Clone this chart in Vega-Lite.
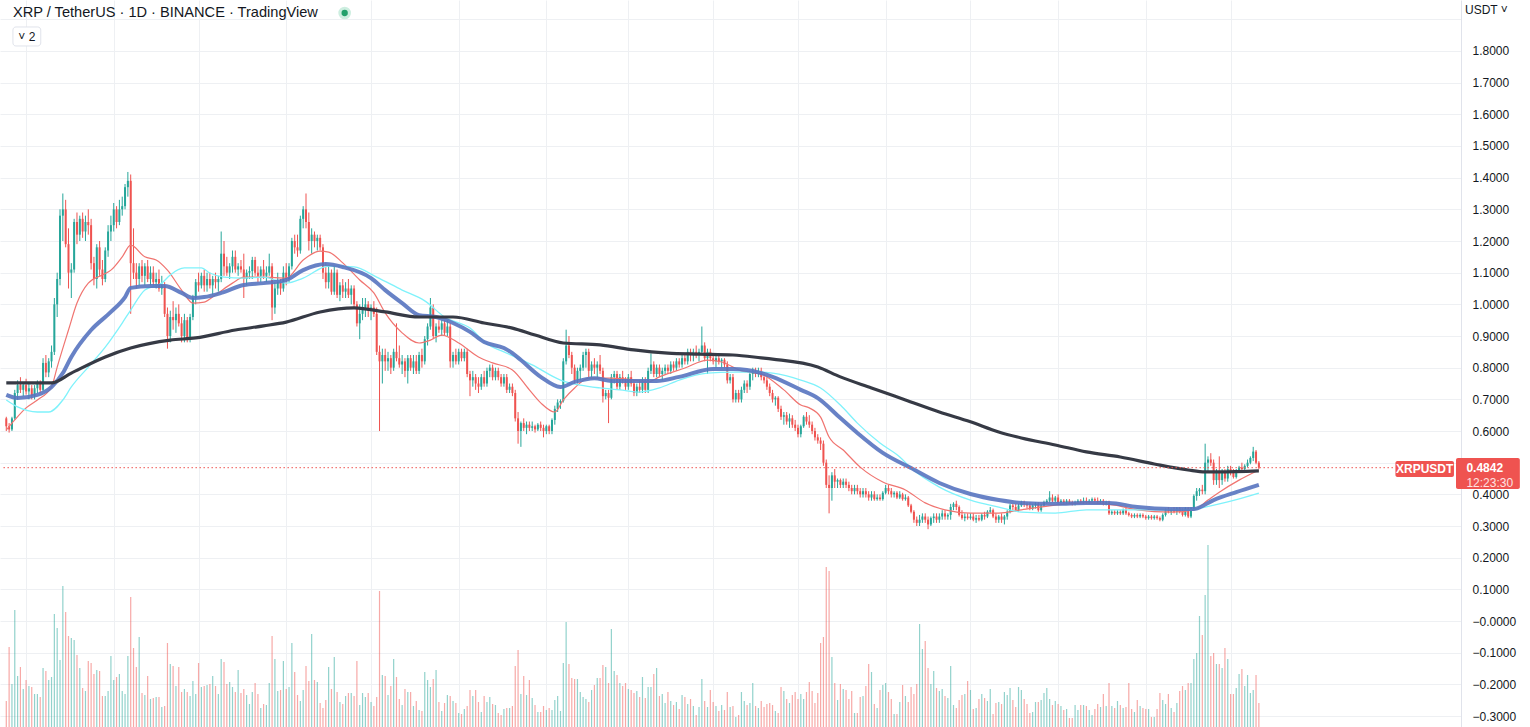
{
"$schema": "https://vega.github.io/schema/vega-lite/v6.json",
"width": 1461, "height": 727,
"autosize": "none",
"padding": {"left": 0, "top": 0, "right": 69, "bottom": 0},
"background": "#ffffff",
"config": {"view": {"stroke": null}, "font": "Liberation Sans"},
"datasets": {
"candles": [
{"i":0,"o":0.64,"h":0.645,"l":0.6,"c":0.615,"v":78},
{"i":1,"o":0.615,"h":0.625,"l":0.595,"c":0.605,"v":240},
{"i":2,"o":0.605,"h":0.645,"l":0.6,"c":0.64,"v":129},
{"i":3,"o":0.64,"h":0.73,"l":0.635,"c":0.72,"v":351},
{"i":4,"o":0.72,"h":0.76,"l":0.7,"c":0.745,"v":153},
{"i":5,"o":0.745,"h":0.77,"l":0.72,"c":0.73,"v":180},
{"i":6,"o":0.73,"h":0.75,"l":0.71,"c":0.745,"v":114},
{"i":7,"o":0.745,"h":0.765,"l":0.715,"c":0.725,"v":141},
{"i":8,"o":0.725,"h":0.75,"l":0.7,"c":0.735,"v":123},
{"i":9,"o":0.735,"h":0.745,"l":0.7,"c":0.71,"v":120},
{"i":10,"o":0.71,"h":0.745,"l":0.7,"c":0.735,"v":99},
{"i":11,"o":0.735,"h":0.76,"l":0.72,"c":0.75,"v":99},
{"i":12,"o":0.75,"h":0.76,"l":0.72,"c":0.73,"v":90},
{"i":13,"o":0.73,"h":0.83,"l":0.725,"c":0.815,"v":177},
{"i":14,"o":0.815,"h":0.84,"l":0.77,"c":0.785,"v":168},
{"i":15,"o":0.785,"h":0.83,"l":0.77,"c":0.82,"v":141},
{"i":16,"o":0.82,"h":0.87,"l":0.8,"c":0.85,"v":150},
{"i":17,"o":0.85,"h":1.02,"l":0.84,"c":1.0,"v":339},
{"i":18,"o":1.0,"h":1.1,"l":0.96,"c":1.08,"v":297},
{"i":19,"o":1.08,"h":1.3,"l":1.06,"c":1.28,"v":201},
{"i":20,"o":1.28,"h":1.35,"l":1.2,"c":1.3,"v":423},
{"i":21,"o":1.3,"h":1.33,"l":1.18,"c":1.19,"v":345},
{"i":22,"o":1.19,"h":1.24,"l":1.05,"c":1.1,"v":273},
{"i":23,"o":1.1,"h":1.13,"l":1.02,"c":1.11,"v":267},
{"i":24,"o":1.11,"h":1.27,"l":1.1,"c":1.26,"v":261},
{"i":25,"o":1.26,"h":1.29,"l":1.19,"c":1.22,"v":216},
{"i":26,"o":1.22,"h":1.28,"l":1.2,"c":1.27,"v":177},
{"i":27,"o":1.27,"h":1.29,"l":1.21,"c":1.23,"v":117},
{"i":28,"o":1.23,"h":1.28,"l":1.2,"c":1.26,"v":108},
{"i":29,"o":1.26,"h":1.3,"l":1.22,"c":1.25,"v":198},
{"i":30,"o":1.25,"h":1.27,"l":1.11,"c":1.13,"v":192},
{"i":31,"o":1.13,"h":1.15,"l":1.06,"c":1.08,"v":159},
{"i":32,"o":1.08,"h":1.19,"l":1.05,"c":1.18,"v":171},
{"i":33,"o":1.18,"h":1.2,"l":1.09,"c":1.11,"v":168},
{"i":34,"o":1.11,"h":1.14,"l":1.06,"c":1.08,"v":93},
{"i":35,"o":1.08,"h":1.18,"l":1.07,"c":1.17,"v":93},
{"i":36,"o":1.17,"h":1.25,"l":1.15,"c":1.23,"v":108},
{"i":37,"o":1.23,"h":1.28,"l":1.2,"c":1.25,"v":213},
{"i":38,"o":1.25,"h":1.32,"l":1.23,"c":1.3,"v":141},
{"i":39,"o":1.3,"h":1.31,"l":1.24,"c":1.26,"v":150},
{"i":40,"o":1.26,"h":1.33,"l":1.25,"c":1.3,"v":159},
{"i":41,"o":1.3,"h":1.34,"l":1.28,"c":1.31,"v":108},
{"i":42,"o":1.31,"h":1.38,"l":1.3,"c":1.37,"v":99},
{"i":43,"o":1.37,"h":1.418,"l":1.34,"c":1.39,"v":213},
{"i":44,"o":1.39,"h":1.41,"l":0.97,"c":1.13,"v":390},
{"i":45,"o":1.13,"h":1.24,"l":1.08,"c":1.1,"v":237},
{"i":46,"o":1.1,"h":1.13,"l":1.05,"c":1.08,"v":180},
{"i":47,"o":1.08,"h":1.13,"l":1.06,"c":1.12,"v":270},
{"i":48,"o":1.12,"h":1.14,"l":1.07,"c":1.09,"v":102},
{"i":49,"o":1.09,"h":1.13,"l":1.06,"c":1.12,"v":96},
{"i":50,"o":1.12,"h":1.14,"l":1.07,"c":1.08,"v":153},
{"i":51,"o":1.08,"h":1.12,"l":1.06,"c":1.1,"v":84},
{"i":52,"o":1.1,"h":1.12,"l":1.06,"c":1.07,"v":87},
{"i":53,"o":1.07,"h":1.1,"l":1.05,"c":1.08,"v":90},
{"i":54,"o":1.08,"h":1.11,"l":1.04,"c":1.05,"v":90},
{"i":55,"o":1.05,"h":1.09,"l":1.03,"c":1.06,"v":60},
{"i":56,"o":1.06,"h":1.07,"l":0.96,"c":0.97,"v":63},
{"i":57,"o":0.97,"h":0.99,"l":0.86,"c":0.9,"v":252},
{"i":58,"o":0.9,"h":0.98,"l":0.88,"c":0.96,"v":189},
{"i":59,"o":0.96,"h":1.01,"l":0.92,"c":0.95,"v":183},
{"i":60,"o":0.95,"h":0.99,"l":0.91,"c":0.97,"v":123},
{"i":61,"o":0.97,"h":1.0,"l":0.93,"c":0.94,"v":180},
{"i":62,"o":0.94,"h":0.96,"l":0.88,"c":0.9,"v":105},
{"i":63,"o":0.9,"h":0.97,"l":0.88,"c":0.95,"v":114},
{"i":64,"o":0.95,"h":0.96,"l":0.88,"c":0.89,"v":105},
{"i":65,"o":0.89,"h":0.97,"l":0.88,"c":0.96,"v":93},
{"i":66,"o":0.96,"h":1.03,"l":0.95,"c":1.02,"v":138},
{"i":67,"o":1.02,"h":1.08,"l":1.0,"c":1.07,"v":99},
{"i":68,"o":1.07,"h":1.1,"l":1.04,"c":1.06,"v":192},
{"i":69,"o":1.06,"h":1.1,"l":1.05,"c":1.09,"v":120},
{"i":70,"o":1.09,"h":1.11,"l":1.04,"c":1.06,"v":123},
{"i":71,"o":1.06,"h":1.1,"l":1.04,"c":1.08,"v":126},
{"i":72,"o":1.08,"h":1.1,"l":1.05,"c":1.06,"v":129},
{"i":73,"o":1.06,"h":1.09,"l":1.03,"c":1.08,"v":153},
{"i":74,"o":1.08,"h":1.1,"l":1.05,"c":1.07,"v":123},
{"i":75,"o":1.07,"h":1.09,"l":1.04,"c":1.08,"v":99},
{"i":76,"o":1.08,"h":1.23,"l":1.07,"c":1.16,"v":204},
{"i":77,"o":1.16,"h":1.2,"l":1.09,"c":1.12,"v":195},
{"i":78,"o":1.12,"h":1.15,"l":1.09,"c":1.1,"v":129},
{"i":79,"o":1.1,"h":1.13,"l":1.08,"c":1.12,"v":135},
{"i":80,"o":1.12,"h":1.17,"l":1.1,"c":1.15,"v":120},
{"i":81,"o":1.15,"h":1.17,"l":1.1,"c":1.11,"v":105},
{"i":82,"o":1.11,"h":1.13,"l":1.09,"c":1.12,"v":171},
{"i":83,"o":1.12,"h":1.14,"l":1.1,"c":1.11,"v":102},
{"i":84,"o":1.11,"h":1.16,"l":1.02,"c":1.08,"v":114},
{"i":85,"o":1.08,"h":1.11,"l":1.06,"c":1.1,"v":96},
{"i":86,"o":1.1,"h":1.12,"l":1.08,"c":1.105,"v":69},
{"i":87,"o":1.105,"h":1.15,"l":1.08,"c":1.14,"v":105},
{"i":88,"o":1.14,"h":1.15,"l":1.09,"c":1.1,"v":132},
{"i":89,"o":1.1,"h":1.12,"l":1.07,"c":1.09,"v":99},
{"i":90,"o":1.09,"h":1.12,"l":1.07,"c":1.11,"v":57},
{"i":91,"o":1.11,"h":1.14,"l":1.08,"c":1.09,"v":69},
{"i":92,"o":1.09,"h":1.12,"l":1.07,"c":1.1,"v":66},
{"i":93,"o":1.1,"h":1.16,"l":1.09,"c":1.12,"v":132},
{"i":94,"o":1.12,"h":1.13,"l":0.95,"c":0.99,"v":273},
{"i":95,"o":0.99,"h":1.07,"l":0.97,"c":1.05,"v":204},
{"i":96,"o":1.05,"h":1.1,"l":1.03,"c":1.07,"v":108},
{"i":97,"o":1.07,"h":1.08,"l":1.03,"c":1.05,"v":111},
{"i":98,"o":1.05,"h":1.12,"l":1.04,"c":1.1,"v":198},
{"i":99,"o":1.1,"h":1.13,"l":1.06,"c":1.08,"v":114},
{"i":100,"o":1.08,"h":1.13,"l":1.07,"c":1.12,"v":120},
{"i":101,"o":1.12,"h":1.21,"l":1.11,"c":1.2,"v":252},
{"i":102,"o":1.2,"h":1.22,"l":1.16,"c":1.18,"v":165},
{"i":103,"o":1.18,"h":1.22,"l":1.15,"c":1.17,"v":96},
{"i":104,"o":1.17,"h":1.28,"l":1.16,"c":1.27,"v":78},
{"i":105,"o":1.27,"h":1.31,"l":1.24,"c":1.3,"v":111},
{"i":106,"o":1.3,"h":1.35,"l":1.24,"c":1.26,"v":183},
{"i":107,"o":1.26,"h":1.29,"l":1.17,"c":1.2,"v":138},
{"i":108,"o":1.2,"h":1.24,"l":1.16,"c":1.22,"v":279},
{"i":109,"o":1.22,"h":1.23,"l":1.18,"c":1.2,"v":141},
{"i":110,"o":1.2,"h":1.22,"l":1.17,"c":1.21,"v":135},
{"i":111,"o":1.21,"h":1.22,"l":1.17,"c":1.18,"v":72},
{"i":112,"o":1.18,"h":1.19,"l":1.08,"c":1.1,"v":57},
{"i":113,"o":1.1,"h":1.13,"l":1.05,"c":1.07,"v":81},
{"i":114,"o":1.07,"h":1.12,"l":1.05,"c":1.1,"v":180},
{"i":115,"o":1.1,"h":1.11,"l":1.03,"c":1.04,"v":114},
{"i":116,"o":1.04,"h":1.12,"l":1.03,"c":1.1,"v":210},
{"i":117,"o":1.1,"h":1.11,"l":1.02,"c":1.03,"v":105},
{"i":118,"o":1.03,"h":1.07,"l":1.01,"c":1.06,"v":75},
{"i":119,"o":1.06,"h":1.08,"l":1.02,"c":1.04,"v":69},
{"i":120,"o":1.04,"h":1.07,"l":1.02,"c":1.05,"v":93},
{"i":121,"o":1.05,"h":1.08,"l":1.02,"c":1.03,"v":102},
{"i":122,"o":1.03,"h":1.06,"l":1.0,"c":1.05,"v":102},
{"i":123,"o":1.05,"h":1.06,"l":0.99,"c":1.0,"v":93},
{"i":124,"o":1.0,"h":1.01,"l":0.93,"c":0.94,"v":198},
{"i":125,"o":0.94,"h":1.0,"l":0.89,"c":0.97,"v":66},
{"i":126,"o":0.97,"h":1.02,"l":0.95,"c":0.99,"v":102},
{"i":127,"o":0.99,"h":1.02,"l":0.96,"c":1.0,"v":90},
{"i":128,"o":1.0,"h":1.01,"l":0.96,"c":0.98,"v":102},
{"i":129,"o":0.98,"h":1.0,"l":0.95,"c":0.99,"v":75},
{"i":130,"o":0.99,"h":1.01,"l":0.96,"c":0.97,"v":63},
{"i":131,"o":0.97,"h":0.99,"l":0.84,"c":0.85,"v":90},
{"i":132,"o":0.85,"h":0.87,"l":0.6,"c":0.82,"v":408},
{"i":133,"o":0.82,"h":0.86,"l":0.75,"c":0.84,"v":156},
{"i":134,"o":0.84,"h":0.86,"l":0.79,"c":0.82,"v":153},
{"i":135,"o":0.82,"h":0.85,"l":0.79,"c":0.83,"v":96},
{"i":136,"o":0.83,"h":0.84,"l":0.78,"c":0.8,"v":123},
{"i":137,"o":0.8,"h":0.86,"l":0.79,"c":0.85,"v":204},
{"i":138,"o":0.85,"h":0.94,"l":0.82,"c":0.83,"v":150},
{"i":139,"o":0.83,"h":0.87,"l":0.8,"c":0.81,"v":84},
{"i":140,"o":0.81,"h":0.84,"l":0.78,"c":0.82,"v":66},
{"i":141,"o":0.82,"h":0.83,"l":0.77,"c":0.79,"v":114},
{"i":142,"o":0.79,"h":0.84,"l":0.75,"c":0.83,"v":105},
{"i":143,"o":0.83,"h":0.84,"l":0.79,"c":0.8,"v":105},
{"i":144,"o":0.8,"h":0.84,"l":0.78,"c":0.82,"v":63},
{"i":145,"o":0.82,"h":0.84,"l":0.78,"c":0.79,"v":78},
{"i":146,"o":0.79,"h":0.85,"l":0.78,"c":0.84,"v":51},
{"i":147,"o":0.84,"h":0.86,"l":0.8,"c":0.82,"v":48},
{"i":148,"o":0.82,"h":0.9,"l":0.81,"c":0.89,"v":165},
{"i":149,"o":0.89,"h":0.94,"l":0.87,"c":0.93,"v":141},
{"i":150,"o":0.93,"h":1.02,"l":0.92,"c":0.99,"v":120},
{"i":151,"o":0.99,"h":1.0,"l":0.89,"c":0.9,"v":144},
{"i":152,"o":0.9,"h":0.94,"l":0.88,"c":0.93,"v":171},
{"i":153,"o":0.93,"h":0.95,"l":0.91,"c":0.92,"v":75},
{"i":154,"o":0.92,"h":0.95,"l":0.9,"c":0.94,"v":48},
{"i":155,"o":0.94,"h":0.95,"l":0.9,"c":0.91,"v":72},
{"i":156,"o":0.91,"h":0.95,"l":0.9,"c":0.93,"v":96},
{"i":157,"o":0.93,"h":0.94,"l":0.8,"c":0.82,"v":93},
{"i":158,"o":0.82,"h":0.85,"l":0.8,"c":0.84,"v":78},
{"i":159,"o":0.84,"h":0.86,"l":0.81,"c":0.82,"v":72},
{"i":160,"o":0.82,"h":0.86,"l":0.81,"c":0.85,"v":42},
{"i":161,"o":0.85,"h":0.86,"l":0.82,"c":0.83,"v":39},
{"i":162,"o":0.83,"h":0.86,"l":0.82,"c":0.85,"v":54},
{"i":163,"o":0.85,"h":0.86,"l":0.77,"c":0.78,"v":63},
{"i":164,"o":0.78,"h":0.79,"l":0.71,"c":0.76,"v":111},
{"i":165,"o":0.76,"h":0.79,"l":0.74,"c":0.77,"v":93},
{"i":166,"o":0.77,"h":0.78,"l":0.73,"c":0.75,"v":111},
{"i":167,"o":0.75,"h":0.77,"l":0.72,"c":0.74,"v":75},
{"i":168,"o":0.74,"h":0.78,"l":0.73,"c":0.77,"v":45},
{"i":169,"o":0.77,"h":0.79,"l":0.74,"c":0.75,"v":93},
{"i":170,"o":0.75,"h":0.8,"l":0.74,"c":0.79,"v":75},
{"i":171,"o":0.79,"h":0.81,"l":0.77,"c":0.8,"v":90},
{"i":172,"o":0.8,"h":0.81,"l":0.76,"c":0.77,"v":69},
{"i":173,"o":0.77,"h":0.8,"l":0.76,"c":0.79,"v":66},
{"i":174,"o":0.79,"h":0.8,"l":0.76,"c":0.77,"v":42},
{"i":175,"o":0.77,"h":0.78,"l":0.74,"c":0.75,"v":36},
{"i":176,"o":0.75,"h":0.78,"l":0.74,"c":0.77,"v":54},
{"i":177,"o":0.77,"h":0.78,"l":0.72,"c":0.73,"v":57},
{"i":178,"o":0.73,"h":0.75,"l":0.72,"c":0.74,"v":57},
{"i":179,"o":0.74,"h":0.75,"l":0.71,"c":0.72,"v":63},
{"i":180,"o":0.72,"h":0.73,"l":0.63,"c":0.64,"v":183},
{"i":181,"o":0.64,"h":0.66,"l":0.56,"c":0.6,"v":231},
{"i":182,"o":0.6,"h":0.63,"l":0.55,"c":0.625,"v":99},
{"i":183,"o":0.625,"h":0.64,"l":0.6,"c":0.61,"v":153},
{"i":184,"o":0.61,"h":0.63,"l":0.59,"c":0.62,"v":96},
{"i":185,"o":0.62,"h":0.63,"l":0.6,"c":0.61,"v":141},
{"i":186,"o":0.61,"h":0.63,"l":0.6,"c":0.615,"v":87},
{"i":187,"o":0.615,"h":0.62,"l":0.595,"c":0.605,"v":66},
{"i":188,"o":0.605,"h":0.625,"l":0.6,"c":0.62,"v":45},
{"i":189,"o":0.62,"h":0.63,"l":0.6,"c":0.61,"v":45},
{"i":190,"o":0.61,"h":0.62,"l":0.58,"c":0.6,"v":63},
{"i":191,"o":0.6,"h":0.62,"l":0.59,"c":0.615,"v":51},
{"i":192,"o":0.615,"h":0.62,"l":0.59,"c":0.6,"v":57},
{"i":193,"o":0.6,"h":0.64,"l":0.59,"c":0.635,"v":51},
{"i":194,"o":0.635,"h":0.68,"l":0.62,"c":0.67,"v":81},
{"i":195,"o":0.67,"h":0.7,"l":0.66,"c":0.69,"v":93},
{"i":196,"o":0.69,"h":0.7,"l":0.67,"c":0.695,"v":48},
{"i":197,"o":0.695,"h":0.83,"l":0.69,"c":0.82,"v":192},
{"i":198,"o":0.82,"h":0.92,"l":0.81,"c":0.87,"v":315},
{"i":199,"o":0.87,"h":0.9,"l":0.83,"c":0.84,"v":189},
{"i":200,"o":0.84,"h":0.85,"l":0.78,"c":0.8,"v":147},
{"i":201,"o":0.8,"h":0.81,"l":0.75,"c":0.76,"v":144},
{"i":202,"o":0.76,"h":0.8,"l":0.75,"c":0.79,"v":144},
{"i":203,"o":0.79,"h":0.81,"l":0.76,"c":0.8,"v":105},
{"i":204,"o":0.8,"h":0.85,"l":0.79,"c":0.84,"v":90},
{"i":205,"o":0.84,"h":0.86,"l":0.8,"c":0.85,"v":84},
{"i":206,"o":0.85,"h":0.86,"l":0.77,"c":0.79,"v":75},
{"i":207,"o":0.79,"h":0.82,"l":0.77,"c":0.81,"v":111},
{"i":208,"o":0.81,"h":0.83,"l":0.78,"c":0.8,"v":126},
{"i":209,"o":0.8,"h":0.82,"l":0.77,"c":0.81,"v":147},
{"i":210,"o":0.81,"h":0.84,"l":0.78,"c":0.79,"v":147},
{"i":211,"o":0.79,"h":0.8,"l":0.69,"c":0.71,"v":186},
{"i":212,"o":0.71,"h":0.73,"l":0.7,"c":0.72,"v":180},
{"i":213,"o":0.72,"h":0.73,"l":0.625,"c":0.705,"v":132},
{"i":214,"o":0.705,"h":0.78,"l":0.7,"c":0.77,"v":294},
{"i":215,"o":0.77,"h":0.79,"l":0.75,"c":0.78,"v":168},
{"i":216,"o":0.78,"h":0.79,"l":0.73,"c":0.74,"v":156},
{"i":217,"o":0.74,"h":0.78,"l":0.73,"c":0.77,"v":132},
{"i":218,"o":0.77,"h":0.79,"l":0.75,"c":0.76,"v":123},
{"i":219,"o":0.76,"h":0.77,"l":0.73,"c":0.74,"v":132},
{"i":220,"o":0.74,"h":0.78,"l":0.73,"c":0.77,"v":114},
{"i":221,"o":0.77,"h":0.79,"l":0.74,"c":0.75,"v":111},
{"i":222,"o":0.75,"h":0.76,"l":0.71,"c":0.72,"v":102},
{"i":223,"o":0.72,"h":0.75,"l":0.71,"c":0.74,"v":108},
{"i":224,"o":0.74,"h":0.76,"l":0.72,"c":0.73,"v":90},
{"i":225,"o":0.73,"h":0.77,"l":0.72,"c":0.76,"v":150},
{"i":226,"o":0.76,"h":0.77,"l":0.72,"c":0.73,"v":87},
{"i":227,"o":0.73,"h":0.8,"l":0.72,"c":0.79,"v":120},
{"i":228,"o":0.79,"h":0.845,"l":0.78,"c":0.81,"v":120},
{"i":229,"o":0.81,"h":0.82,"l":0.77,"c":0.78,"v":159},
{"i":230,"o":0.78,"h":0.81,"l":0.77,"c":0.8,"v":177},
{"i":231,"o":0.8,"h":0.81,"l":0.77,"c":0.78,"v":93},
{"i":232,"o":0.78,"h":0.8,"l":0.76,"c":0.79,"v":99},
{"i":233,"o":0.79,"h":0.81,"l":0.78,"c":0.8,"v":72},
{"i":234,"o":0.8,"h":0.81,"l":0.78,"c":0.79,"v":105},
{"i":235,"o":0.79,"h":0.82,"l":0.78,"c":0.81,"v":78},
{"i":236,"o":0.81,"h":0.82,"l":0.79,"c":0.8,"v":66},
{"i":237,"o":0.8,"h":0.83,"l":0.79,"c":0.82,"v":75},
{"i":238,"o":0.82,"h":0.83,"l":0.8,"c":0.81,"v":54},
{"i":239,"o":0.81,"h":0.84,"l":0.8,"c":0.83,"v":96},
{"i":240,"o":0.83,"h":0.84,"l":0.81,"c":0.82,"v":90},
{"i":241,"o":0.82,"h":0.86,"l":0.81,"c":0.85,"v":69},
{"i":242,"o":0.85,"h":0.86,"l":0.82,"c":0.84,"v":84},
{"i":243,"o":0.84,"h":0.86,"l":0.82,"c":0.85,"v":63},
{"i":244,"o":0.85,"h":0.87,"l":0.83,"c":0.84,"v":36},
{"i":245,"o":0.84,"h":0.86,"l":0.82,"c":0.85,"v":60},
{"i":246,"o":0.85,"h":0.93,"l":0.84,"c":0.87,"v":144},
{"i":247,"o":0.87,"h":0.88,"l":0.82,"c":0.83,"v":78},
{"i":248,"o":0.83,"h":0.86,"l":0.78,"c":0.85,"v":60},
{"i":249,"o":0.85,"h":0.86,"l":0.82,"c":0.83,"v":111},
{"i":250,"o":0.83,"h":0.84,"l":0.81,"c":0.82,"v":75},
{"i":251,"o":0.82,"h":0.84,"l":0.8,"c":0.83,"v":63},
{"i":252,"o":0.83,"h":0.84,"l":0.81,"c":0.82,"v":48},
{"i":253,"o":0.82,"h":0.83,"l":0.8,"c":0.825,"v":66},
{"i":254,"o":0.825,"h":0.83,"l":0.8,"c":0.81,"v":51},
{"i":255,"o":0.81,"h":0.82,"l":0.75,"c":0.76,"v":105},
{"i":256,"o":0.76,"h":0.78,"l":0.75,"c":0.77,"v":60},
{"i":257,"o":0.77,"h":0.78,"l":0.69,"c":0.7,"v":63},
{"i":258,"o":0.7,"h":0.73,"l":0.69,"c":0.72,"v":30},
{"i":259,"o":0.72,"h":0.73,"l":0.69,"c":0.7,"v":36},
{"i":260,"o":0.7,"h":0.74,"l":0.69,"c":0.73,"v":105},
{"i":261,"o":0.73,"h":0.76,"l":0.72,"c":0.75,"v":78},
{"i":262,"o":0.75,"h":0.76,"l":0.72,"c":0.74,"v":66},
{"i":263,"o":0.74,"h":0.79,"l":0.73,"c":0.78,"v":72},
{"i":264,"o":0.78,"h":0.8,"l":0.76,"c":0.79,"v":132},
{"i":265,"o":0.79,"h":0.8,"l":0.77,"c":0.78,"v":63},
{"i":266,"o":0.78,"h":0.8,"l":0.77,"c":0.79,"v":57},
{"i":267,"o":0.79,"h":0.8,"l":0.76,"c":0.77,"v":78},
{"i":268,"o":0.77,"h":0.78,"l":0.75,"c":0.76,"v":60},
{"i":269,"o":0.76,"h":0.77,"l":0.73,"c":0.74,"v":69},
{"i":270,"o":0.74,"h":0.75,"l":0.71,"c":0.72,"v":72},
{"i":271,"o":0.72,"h":0.73,"l":0.69,"c":0.7,"v":66},
{"i":272,"o":0.7,"h":0.71,"l":0.68,"c":0.705,"v":48},
{"i":273,"o":0.705,"h":0.71,"l":0.66,"c":0.67,"v":42},
{"i":274,"o":0.67,"h":0.68,"l":0.635,"c":0.645,"v":120},
{"i":275,"o":0.645,"h":0.66,"l":0.62,"c":0.65,"v":108},
{"i":276,"o":0.65,"h":0.66,"l":0.62,"c":0.63,"v":84},
{"i":277,"o":0.63,"h":0.655,"l":0.61,"c":0.64,"v":72},
{"i":278,"o":0.64,"h":0.65,"l":0.61,"c":0.62,"v":96},
{"i":279,"o":0.62,"h":0.635,"l":0.6,"c":0.61,"v":105},
{"i":280,"o":0.61,"h":0.62,"l":0.58,"c":0.59,"v":84},
{"i":281,"o":0.59,"h":0.62,"l":0.58,"c":0.615,"v":99},
{"i":282,"o":0.615,"h":0.65,"l":0.61,"c":0.645,"v":84},
{"i":283,"o":0.645,"h":0.66,"l":0.62,"c":0.63,"v":105},
{"i":284,"o":0.63,"h":0.65,"l":0.61,"c":0.62,"v":135},
{"i":285,"o":0.62,"h":0.63,"l":0.59,"c":0.6,"v":108},
{"i":286,"o":0.6,"h":0.61,"l":0.57,"c":0.58,"v":72},
{"i":287,"o":0.58,"h":0.59,"l":0.56,"c":0.57,"v":102},
{"i":288,"o":0.57,"h":0.58,"l":0.54,"c":0.56,"v":252},
{"i":289,"o":0.56,"h":0.57,"l":0.49,"c":0.5,"v":270},
{"i":290,"o":0.5,"h":0.51,"l":0.42,"c":0.43,"v":480},
{"i":291,"o":0.43,"h":0.46,"l":0.34,"c":0.42,"v":468},
{"i":292,"o":0.42,"h":0.47,"l":0.38,"c":0.46,"v":210},
{"i":293,"o":0.46,"h":0.48,"l":0.42,"c":0.44,"v":132},
{"i":294,"o":0.44,"h":0.45,"l":0.42,"c":0.445,"v":81},
{"i":295,"o":0.445,"h":0.45,"l":0.42,"c":0.43,"v":129},
{"i":296,"o":0.43,"h":0.45,"l":0.42,"c":0.44,"v":114},
{"i":297,"o":0.44,"h":0.45,"l":0.42,"c":0.43,"v":111},
{"i":298,"o":0.43,"h":0.44,"l":0.41,"c":0.42,"v":84},
{"i":299,"o":0.42,"h":0.43,"l":0.4,"c":0.41,"v":108},
{"i":300,"o":0.41,"h":0.43,"l":0.4,"c":0.42,"v":42},
{"i":301,"o":0.42,"h":0.43,"l":0.4,"c":0.41,"v":42},
{"i":302,"o":0.41,"h":0.42,"l":0.39,"c":0.4,"v":90},
{"i":303,"o":0.4,"h":0.42,"l":0.39,"c":0.41,"v":93},
{"i":304,"o":0.41,"h":0.42,"l":0.39,"c":0.4,"v":123},
{"i":305,"o":0.4,"h":0.41,"l":0.38,"c":0.39,"v":189},
{"i":306,"o":0.39,"h":0.41,"l":0.38,"c":0.4,"v":165},
{"i":307,"o":0.4,"h":0.41,"l":0.38,"c":0.385,"v":69},
{"i":308,"o":0.385,"h":0.4,"l":0.38,"c":0.39,"v":57},
{"i":309,"o":0.39,"h":0.4,"l":0.38,"c":0.385,"v":111},
{"i":310,"o":0.385,"h":0.41,"l":0.38,"c":0.405,"v":126},
{"i":311,"o":0.405,"h":0.43,"l":0.4,"c":0.42,"v":132},
{"i":312,"o":0.42,"h":0.43,"l":0.4,"c":0.41,"v":105},
{"i":313,"o":0.41,"h":0.42,"l":0.39,"c":0.4,"v":84},
{"i":314,"o":0.4,"h":0.41,"l":0.39,"c":0.405,"v":39},
{"i":315,"o":0.405,"h":0.41,"l":0.385,"c":0.39,"v":39},
{"i":316,"o":0.39,"h":0.41,"l":0.385,"c":0.4,"v":75},
{"i":317,"o":0.4,"h":0.405,"l":0.38,"c":0.385,"v":126},
{"i":318,"o":0.385,"h":0.4,"l":0.38,"c":0.39,"v":93},
{"i":319,"o":0.39,"h":0.395,"l":0.36,"c":0.365,"v":75},
{"i":320,"o":0.365,"h":0.37,"l":0.34,"c":0.345,"v":120},
{"i":321,"o":0.345,"h":0.35,"l":0.31,"c":0.32,"v":99},
{"i":322,"o":0.32,"h":0.33,"l":0.3,"c":0.31,"v":129},
{"i":323,"o":0.31,"h":0.335,"l":0.3,"c":0.32,"v":309},
{"i":324,"o":0.32,"h":0.34,"l":0.31,"c":0.33,"v":234},
{"i":325,"o":0.33,"h":0.34,"l":0.31,"c":0.32,"v":258},
{"i":326,"o":0.32,"h":0.33,"l":0.29,"c":0.305,"v":177},
{"i":327,"o":0.305,"h":0.33,"l":0.3,"c":0.325,"v":129},
{"i":328,"o":0.325,"h":0.34,"l":0.31,"c":0.33,"v":168},
{"i":329,"o":0.33,"h":0.34,"l":0.31,"c":0.32,"v":117},
{"i":330,"o":0.32,"h":0.34,"l":0.31,"c":0.33,"v":108},
{"i":331,"o":0.33,"h":0.35,"l":0.32,"c":0.34,"v":114},
{"i":332,"o":0.34,"h":0.35,"l":0.32,"c":0.33,"v":93},
{"i":333,"o":0.33,"h":0.34,"l":0.32,"c":0.335,"v":87},
{"i":334,"o":0.335,"h":0.37,"l":0.32,"c":0.36,"v":183},
{"i":335,"o":0.36,"h":0.375,"l":0.35,"c":0.37,"v":66},
{"i":336,"o":0.37,"h":0.38,"l":0.35,"c":0.36,"v":57},
{"i":337,"o":0.36,"h":0.365,"l":0.33,"c":0.335,"v":81},
{"i":338,"o":0.335,"h":0.35,"l":0.32,"c":0.325,"v":96},
{"i":339,"o":0.325,"h":0.34,"l":0.315,"c":0.33,"v":99},
{"i":340,"o":0.33,"h":0.34,"l":0.32,"c":0.325,"v":138},
{"i":341,"o":0.325,"h":0.34,"l":0.32,"c":0.33,"v":111},
{"i":342,"o":0.33,"h":0.34,"l":0.315,"c":0.32,"v":54},
{"i":343,"o":0.32,"h":0.335,"l":0.31,"c":0.325,"v":57},
{"i":344,"o":0.325,"h":0.335,"l":0.315,"c":0.32,"v":84},
{"i":345,"o":0.32,"h":0.34,"l":0.315,"c":0.335,"v":99},
{"i":346,"o":0.335,"h":0.345,"l":0.32,"c":0.33,"v":87},
{"i":347,"o":0.33,"h":0.35,"l":0.325,"c":0.345,"v":78},
{"i":348,"o":0.345,"h":0.36,"l":0.34,"c":0.35,"v":114},
{"i":349,"o":0.35,"h":0.355,"l":0.325,"c":0.33,"v":39},
{"i":350,"o":0.33,"h":0.34,"l":0.31,"c":0.32,"v":72},
{"i":351,"o":0.32,"h":0.335,"l":0.31,"c":0.33,"v":75},
{"i":352,"o":0.33,"h":0.34,"l":0.31,"c":0.32,"v":69},
{"i":353,"o":0.32,"h":0.335,"l":0.305,"c":0.33,"v":105},
{"i":354,"o":0.33,"h":0.35,"l":0.32,"c":0.345,"v":96},
{"i":355,"o":0.345,"h":0.37,"l":0.34,"c":0.365,"v":117},
{"i":356,"o":0.365,"h":0.37,"l":0.35,"c":0.36,"v":81},
{"i":357,"o":0.36,"h":0.37,"l":0.345,"c":0.35,"v":60},
{"i":358,"o":0.35,"h":0.37,"l":0.345,"c":0.365,"v":120},
{"i":359,"o":0.365,"h":0.38,"l":0.36,"c":0.375,"v":111},
{"i":360,"o":0.375,"h":0.38,"l":0.36,"c":0.37,"v":84},
{"i":361,"o":0.37,"h":0.375,"l":0.355,"c":0.365,"v":69},
{"i":362,"o":0.365,"h":0.375,"l":0.35,"c":0.355,"v":42},
{"i":363,"o":0.355,"h":0.37,"l":0.35,"c":0.365,"v":45},
{"i":364,"o":0.365,"h":0.375,"l":0.355,"c":0.37,"v":75},
{"i":365,"o":0.37,"h":0.375,"l":0.345,"c":0.35,"v":75},
{"i":366,"o":0.35,"h":0.37,"l":0.345,"c":0.365,"v":81},
{"i":367,"o":0.365,"h":0.38,"l":0.36,"c":0.375,"v":102},
{"i":368,"o":0.375,"h":0.385,"l":0.37,"c":0.38,"v":117},
{"i":369,"o":0.38,"h":0.41,"l":0.375,"c":0.39,"v":84},
{"i":370,"o":0.39,"h":0.4,"l":0.375,"c":0.38,"v":66},
{"i":371,"o":0.38,"h":0.395,"l":0.375,"c":0.39,"v":78},
{"i":372,"o":0.39,"h":0.4,"l":0.37,"c":0.375,"v":69},
{"i":373,"o":0.375,"h":0.385,"l":0.37,"c":0.38,"v":63},
{"i":374,"o":0.38,"h":0.385,"l":0.37,"c":0.375,"v":51},
{"i":375,"o":0.375,"h":0.385,"l":0.37,"c":0.38,"v":54},
{"i":376,"o":0.38,"h":0.385,"l":0.37,"c":0.375,"v":27},
{"i":377,"o":0.375,"h":0.38,"l":0.365,"c":0.37,"v":27},
{"i":378,"o":0.37,"h":0.38,"l":0.365,"c":0.375,"v":66},
{"i":379,"o":0.375,"h":0.385,"l":0.37,"c":0.38,"v":51},
{"i":380,"o":0.38,"h":0.385,"l":0.37,"c":0.375,"v":66},
{"i":381,"o":0.375,"h":0.39,"l":0.37,"c":0.38,"v":66},
{"i":382,"o":0.38,"h":0.39,"l":0.37,"c":0.375,"v":63},
{"i":383,"o":0.375,"h":0.385,"l":0.37,"c":0.38,"v":51},
{"i":384,"o":0.38,"h":0.39,"l":0.375,"c":0.385,"v":36},
{"i":385,"o":0.385,"h":0.39,"l":0.375,"c":0.38,"v":54},
{"i":386,"o":0.38,"h":0.39,"l":0.37,"c":0.375,"v":69},
{"i":387,"o":0.375,"h":0.385,"l":0.37,"c":0.38,"v":60},
{"i":388,"o":0.38,"h":0.385,"l":0.365,"c":0.37,"v":99},
{"i":389,"o":0.37,"h":0.38,"l":0.365,"c":0.375,"v":63},
{"i":390,"o":0.375,"h":0.38,"l":0.335,"c":0.34,"v":132},
{"i":391,"o":0.34,"h":0.35,"l":0.335,"c":0.345,"v":63},
{"i":392,"o":0.345,"h":0.35,"l":0.335,"c":0.34,"v":57},
{"i":393,"o":0.34,"h":0.35,"l":0.335,"c":0.345,"v":78},
{"i":394,"o":0.345,"h":0.35,"l":0.335,"c":0.34,"v":66},
{"i":395,"o":0.34,"h":0.355,"l":0.335,"c":0.35,"v":57},
{"i":396,"o":0.35,"h":0.36,"l":0.335,"c":0.34,"v":60},
{"i":397,"o":0.34,"h":0.345,"l":0.33,"c":0.335,"v":132},
{"i":398,"o":0.335,"h":0.34,"l":0.325,"c":0.33,"v":54},
{"i":399,"o":0.33,"h":0.34,"l":0.325,"c":0.335,"v":45},
{"i":400,"o":0.335,"h":0.34,"l":0.325,"c":0.33,"v":81},
{"i":401,"o":0.33,"h":0.34,"l":0.325,"c":0.335,"v":63},
{"i":402,"o":0.335,"h":0.34,"l":0.325,"c":0.33,"v":57},
{"i":403,"o":0.33,"h":0.335,"l":0.32,"c":0.325,"v":54},
{"i":404,"o":0.325,"h":0.335,"l":0.32,"c":0.33,"v":54},
{"i":405,"o":0.33,"h":0.335,"l":0.32,"c":0.325,"v":30},
{"i":406,"o":0.325,"h":0.335,"l":0.32,"c":0.33,"v":30},
{"i":407,"o":0.33,"h":0.335,"l":0.32,"c":0.325,"v":54},
{"i":408,"o":0.325,"h":0.33,"l":0.315,"c":0.32,"v":102},
{"i":409,"o":0.32,"h":0.34,"l":0.315,"c":0.335,"v":81},
{"i":410,"o":0.335,"h":0.355,"l":0.33,"c":0.35,"v":69},
{"i":411,"o":0.35,"h":0.36,"l":0.34,"c":0.345,"v":99},
{"i":412,"o":0.345,"h":0.355,"l":0.335,"c":0.35,"v":57},
{"i":413,"o":0.35,"h":0.36,"l":0.34,"c":0.345,"v":45},
{"i":414,"o":0.345,"h":0.36,"l":0.335,"c":0.355,"v":72},
{"i":415,"o":0.355,"h":0.36,"l":0.34,"c":0.345,"v":108},
{"i":416,"o":0.345,"h":0.355,"l":0.33,"c":0.335,"v":123},
{"i":417,"o":0.335,"h":0.36,"l":0.33,"c":0.355,"v":111},
{"i":418,"o":0.355,"h":0.36,"l":0.325,"c":0.33,"v":132},
{"i":419,"o":0.33,"h":0.36,"l":0.325,"c":0.355,"v":132},
{"i":420,"o":0.355,"h":0.4,"l":0.35,"c":0.395,"v":204},
{"i":421,"o":0.395,"h":0.42,"l":0.38,"c":0.41,"v":222},
{"i":422,"o":0.41,"h":0.42,"l":0.395,"c":0.415,"v":333},
{"i":423,"o":0.415,"h":0.43,"l":0.4,"c":0.41,"v":276},
{"i":424,"o":0.41,"h":0.56,"l":0.4,"c":0.5,"v":396},
{"i":425,"o":0.5,"h":0.52,"l":0.47,"c":0.51,"v":546},
{"i":426,"o":0.51,"h":0.53,"l":0.49,"c":0.5,"v":213},
{"i":427,"o":0.5,"h":0.51,"l":0.43,"c":0.445,"v":222},
{"i":428,"o":0.445,"h":0.48,"l":0.43,"c":0.47,"v":189},
{"i":429,"o":0.47,"h":0.52,"l":0.42,"c":0.445,"v":189},
{"i":430,"o":0.445,"h":0.48,"l":0.43,"c":0.47,"v":177},
{"i":431,"o":0.47,"h":0.48,"l":0.44,"c":0.45,"v":237},
{"i":432,"o":0.45,"h":0.49,"l":0.44,"c":0.48,"v":204},
{"i":433,"o":0.48,"h":0.49,"l":0.46,"c":0.47,"v":99},
{"i":434,"o":0.47,"h":0.48,"l":0.45,"c":0.455,"v":99},
{"i":435,"o":0.455,"h":0.48,"l":0.45,"c":0.475,"v":117},
{"i":436,"o":0.475,"h":0.49,"l":0.47,"c":0.485,"v":159},
{"i":437,"o":0.485,"h":0.5,"l":0.475,"c":0.48,"v":174},
{"i":438,"o":0.48,"h":0.495,"l":0.475,"c":0.49,"v":123},
{"i":439,"o":0.49,"h":0.51,"l":0.485,"c":0.5,"v":156},
{"i":440,"o":0.5,"h":0.52,"l":0.495,"c":0.515,"v":102},
{"i":441,"o":0.515,"h":0.55,"l":0.505,"c":0.535,"v":111},
{"i":442,"o":0.535,"h":0.54,"l":0.495,"c":0.5,"v":156},
{"i":443,"o":0.5,"h":0.505,"l":0.48,"c":0.4842,"v":72}
],
"ma": [
{"s":"ma200","i":0,"m":0.752},{"s":"ma200","i":16,"m":0.752},{"s":"ma200","i":23,"m":0.783},{"s":"ma200","i":35,"m":0.834},{"s":"ma200","i":44,"m":0.862},{"s":"ma200","i":58,"m":0.887},{"s":"ma200","i":67,"m":0.894},{"s":"ma200","i":81,"m":0.919},{"s":"ma200","i":91,"m":0.932},{"s":"ma200","i":99,"m":0.944},{"s":"ma200","i":111,"m":0.976},{"s":"ma200","i":123,"m":0.989},{"s":"ma200","i":134,"m":0.976},{"s":"ma200","i":146,"m":0.96},{"s":"ma200","i":158,"m":0.96},{"s":"ma200","i":169,"m":0.941},{"s":"ma200","i":179,"m":0.925},{"s":"ma200","i":187,"m":0.903},{"s":"ma200","i":197,"m":0.878},{"s":"ma200","i":210,"m":0.872},{"s":"ma200","i":222,"m":0.856},{"s":"ma200","i":234,"m":0.846},{"s":"ma200","i":245,"m":0.843},{"s":"ma200","i":257,"m":0.84},{"s":"ma200","i":267,"m":0.831},{"s":"ma200","i":271,"m":0.827},{"s":"ma200","i":287,"m":0.802},{"s":"ma200","i":295,"m":0.771},{"s":"ma200","i":306,"m":0.736},{"s":"ma200","i":318,"m":0.698},{"s":"ma200","i":330,"m":0.66},{"s":"ma200","i":341,"m":0.629},{"s":"ma200","i":351,"m":0.597},{"s":"ma200","i":359,"m":0.578},{"s":"ma200","i":371,"m":0.556},{"s":"ma200","i":382,"m":0.534},{"s":"ma200","i":394,"m":0.518},{"s":"ma200","i":406,"m":0.496},{"s":"ma200","i":418,"m":0.477},{"s":"ma200","i":424,"m":0.471},{"s":"ma200","i":429,"m":0.471},{"s":"ma200","i":443,"m":0.474},
{"s":"ema","i":0,"m":0.714},{"s":"ema","i":4,"m":0.704},{"s":"ema","i":11,"m":0.714},{"s":"ema","i":16,"m":0.739},{"s":"ema","i":20,"m":0.783},{"s":"ema","i":23,"m":0.834},{"s":"ema","i":30,"m":0.919},{"s":"ema","i":37,"m":0.976},{"s":"ema","i":42,"m":1.023},{"s":"ema","i":44,"m":1.052},{"s":"ema","i":51,"m":1.058},{"s":"ema","i":56,"m":1.058},{"s":"ema","i":62,"m":1.036},{"s":"ema","i":66,"m":1.02},{"s":"ema","i":70,"m":1.023},{"s":"ema","i":76,"m":1.036},{"s":"ema","i":84,"m":1.061},{"s":"ema","i":91,"m":1.067},{"s":"ema","i":99,"m":1.077},{"s":"ema","i":105,"m":1.108},{"s":"ema","i":113,"m":1.127},{"s":"ema","i":119,"m":1.118},{"s":"ema","i":129,"m":1.083},{"s":"ema","i":134,"m":1.045},{"s":"ema","i":140,"m":1.004},{"s":"ema","i":146,"m":0.966},{"s":"ema","i":152,"m":0.96},{"s":"ema","i":158,"m":0.941},{"s":"ema","i":164,"m":0.913},{"s":"ema","i":169,"m":0.881},{"s":"ema","i":176,"m":0.862},{"s":"ema","i":179,"m":0.846},{"s":"ema","i":182,"m":0.824},{"s":"ema","i":189,"m":0.771},{"s":"ema","i":196,"m":0.739},{"s":"ema","i":201,"m":0.755},{"s":"ema","i":208,"m":0.767},{"s":"ema","i":214,"m":0.758},{"s":"ema","i":222,"m":0.758},{"s":"ema","i":230,"m":0.758},{"s":"ema","i":238,"m":0.771},{"s":"ema","i":250,"m":0.796},{"s":"ema","i":257,"m":0.796},{"s":"ema","i":267,"m":0.783},{"s":"ema","i":271,"m":0.771},{"s":"ema","i":281,"m":0.73},{"s":"ema","i":287,"m":0.704},{"s":"ema","i":295,"m":0.641},{"s":"ema","i":301,"m":0.594},{"s":"ema","i":310,"m":0.531},{"s":"ema","i":320,"m":0.483},{"s":"ema","i":330,"m":0.436},{"s":"ema","i":341,"m":0.401},{"s":"ema","i":351,"m":0.382},{"s":"ema","i":359,"m":0.373},{"s":"ema","i":371,"m":0.37},{"s":"ema","i":382,"m":0.373},{"s":"ema","i":390,"m":0.373},{"s":"ema","i":400,"m":0.36},{"s":"ema","i":412,"m":0.354},{"s":"ema","i":420,"m":0.354},{"s":"ema","i":427,"m":0.382},{"s":"ema","i":435,"m":0.407},{"s":"ema","i":443,"m":0.43},
{"s":"ma50","i":0,"m":0.698},{"s":"ma50","i":4,"m":0.676},{"s":"ma50","i":11,"m":0.66},{"s":"ma50","i":15,"m":0.66},{"s":"ma50","i":20,"m":0.698},{"s":"ma50","i":23,"m":0.739},{"s":"ma50","i":29,"m":0.802},{"s":"ma50","i":35,"m":0.865},{"s":"ma50","i":41,"m":0.941},{"s":"ma50","i":44,"m":0.982},{"s":"ma50","i":49,"m":1.045},{"s":"ma50","i":55,"m":1.067},{"s":"ma50","i":58,"m":1.093},{"s":"ma50","i":63,"m":1.115},{"s":"ma50","i":69,"m":1.115},{"s":"ma50","i":72,"m":1.099},{"s":"ma50","i":77,"m":1.086},{"s":"ma50","i":84,"m":1.083},{"s":"ma50","i":91,"m":1.086},{"s":"ma50","i":99,"m":1.067},{"s":"ma50","i":105,"m":1.083},{"s":"ma50","i":114,"m":1.121},{"s":"ma50","i":123,"m":1.118},{"s":"ma50","i":131,"m":1.086},{"s":"ma50","i":140,"m":1.045},{"s":"ma50","i":148,"m":1.011},{"s":"ma50","i":155,"m":0.96},{"s":"ma50","i":164,"m":0.925},{"s":"ma50","i":170,"m":0.875},{"s":"ma50","i":176,"m":0.85},{"s":"ma50","i":186,"m":0.809},{"s":"ma50","i":196,"m":0.761},{"s":"ma50","i":203,"m":0.745},{"s":"ma50","i":210,"m":0.736},{"s":"ma50","i":217,"m":0.73},{"s":"ma50","i":224,"m":0.723},{"s":"ma50","i":231,"m":0.736},{"s":"ma50","i":238,"m":0.761},{"s":"ma50","i":248,"m":0.783},{"s":"ma50","i":257,"m":0.786},{"s":"ma50","i":267,"m":0.786},{"s":"ma50","i":271,"m":0.783},{"s":"ma50","i":281,"m":0.761},{"s":"ma50","i":288,"m":0.736},{"s":"ma50","i":295,"m":0.682},{"s":"ma50","i":301,"m":0.625},{"s":"ma50","i":309,"m":0.562},{"s":"ma50","i":316,"m":0.518},{"s":"ma50","i":320,"m":0.483},{"s":"ma50","i":330,"m":0.423},{"s":"ma50","i":341,"m":0.382},{"s":"ma50","i":351,"m":0.36},{"s":"ma50","i":359,"m":0.344},{"s":"ma50","i":371,"m":0.341},{"s":"ma50","i":382,"m":0.351},{"s":"ma50","i":394,"m":0.351},{"s":"ma50","i":406,"m":0.351},{"s":"ma50","i":418,"m":0.351},{"s":"ma50","i":424,"m":0.36},{"s":"ma50","i":432,"m":0.376},{"s":"ma50","i":443,"m":0.404},
{"s":"ma20","i":0,"m":0.603},{"s":"ma20","i":3,"m":0.635},{"s":"ma20","i":7,"m":0.673},{"s":"ma20","i":11,"m":0.698},{"s":"ma20","i":16,"m":0.739},{"s":"ma20","i":18,"m":0.802},{"s":"ma20","i":22,"m":0.919},{"s":"ma20","i":25,"m":1.004},{"s":"ma20","i":29,"m":1.067},{"s":"ma20","i":34,"m":1.093},{"s":"ma20","i":37,"m":1.108},{"s":"ma20","i":41,"m":1.15},{"s":"ma20","i":44,"m":1.187},{"s":"ma20","i":49,"m":1.15},{"s":"ma20","i":53,"m":1.14},{"s":"ma20","i":57,"m":1.108},{"s":"ma20","i":62,"m":1.045},{"s":"ma20","i":66,"m":1.004},{"s":"ma20","i":70,"m":1.007},{"s":"ma20","i":74,"m":1.03},{"s":"ma20","i":80,"m":1.067},{"s":"ma20","i":84,"m":1.086},{"s":"ma20","i":91,"m":1.086},{"s":"ma20","i":99,"m":1.083},{"s":"ma20","i":105,"m":1.14},{"s":"ma20","i":111,"m":1.168},{"s":"ma20","i":114,"m":1.165},{"s":"ma20","i":119,"m":1.131},{"s":"ma20","i":125,"m":1.077},{"s":"ma20","i":130,"m":1.036},{"s":"ma20","i":134,"m":0.973},{"s":"ma20","i":140,"m":0.91},{"s":"ma20","i":146,"m":0.878},{"s":"ma20","i":150,"m":0.887},{"s":"ma20","i":154,"m":0.903},{"s":"ma20","i":160,"m":0.878},{"s":"ma20","i":167,"m":0.834},{"s":"ma20","i":172,"m":0.815},{"s":"ma20","i":179,"m":0.793},{"s":"ma20","i":185,"m":0.73},{"s":"ma20","i":189,"m":0.689},{"s":"ma20","i":194,"m":0.66},{"s":"ma20","i":197,"m":0.698},{"s":"ma20","i":201,"m":0.736},{"s":"ma20","i":206,"m":0.767},{"s":"ma20","i":214,"m":0.767},{"s":"ma20","i":222,"m":0.761},{"s":"ma20","i":227,"m":0.755},{"s":"ma20","i":231,"m":0.771},{"s":"ma20","i":240,"m":0.799},{"s":"ma20","i":248,"m":0.824},{"s":"ma20","i":253,"m":0.818},{"s":"ma20","i":260,"m":0.79},{"s":"ma20","i":267,"m":0.78},{"s":"ma20","i":275,"m":0.73},{"s":"ma20","i":281,"m":0.682},{"s":"ma20","i":284,"m":0.673},{"s":"ma20","i":288,"m":0.644},{"s":"ma20","i":291,"m":0.581},{"s":"ma20","i":296,"m":0.54},{"s":"ma20","i":302,"m":0.486},{"s":"ma20","i":310,"m":0.439},{"s":"ma20","i":318,"m":0.414},{"s":"ma20","i":325,"m":0.373},{"s":"ma20","i":332,"m":0.351},{"s":"ma20","i":341,"m":0.341},{"s":"ma20","i":351,"m":0.341},{"s":"ma20","i":359,"m":0.351},{"s":"ma20","i":371,"m":0.366},{"s":"ma20","i":382,"m":0.373},{"s":"ma20","i":392,"m":0.366},{"s":"ma20","i":400,"m":0.351},{"s":"ma20","i":412,"m":0.344},{"s":"ma20","i":420,"m":0.351},{"s":"ma20","i":425,"m":0.382},{"s":"ma20","i":429,"m":0.407},{"s":"ma20","i":436,"m":0.445},{"s":"ma20","i":443,"m":0.477}
]
},
"layer": [
{
"data": {"name": "candles"},
"mark": {"type": "bar", "size": 1.2, "orient": "vertical"},
"encoding": {
"x": {"field": "i", "type": "quantitative", "scale": {"domain": [-0.457, 512.72], "nice": false, "zero": false}},
"y": {"field": "v", "type": "quantitative", "stack": null, "scale": {"domain": [0, 2181], "nice": false, "zero": true}, "axis": null},
"color": {"condition": {"test": "datum.c >= datum.o", "value": "rgba(38,166,154,0.5)"}, "value": "rgba(239,83,80,0.5)"}
}
},
{
"layer": [
{
"data": {"name": "candles"},
"mark": {"type": "rule", "strokeWidth": 1},
"encoding": {
"x": {"field": "i", "type": "quantitative", "scale": {"domain": [-0.457, 512.72], "nice": false, "zero": false}},
"y": {"field": "l", "type": "quantitative", "scale": {"domain": [-0.3346, 1.961], "nice": false, "zero": false}},
"y2": {"field": "h"},
"color": {"condition": {"test": "datum.c >= datum.o", "value": "#26a69a"}, "value": "#ef5350"}
}
},
{
"data": {"name": "candles"},
"mark": {"type": "bar", "size": 2, "orient": "vertical"},
"encoding": {
"x": {"field": "i", "type": "quantitative", "scale": {"domain": [-0.457, 512.72], "nice": false, "zero": false},
"axis": {"values": [7,38,68,99,129,160,191,220,250,280,311,341,372,403,433], "tickCount": 40, "grid": true, "gridColor": "#eef0f3", "labels": false, "ticks": false, "domain": false, "title": null}},
"y": {"field": "o", "type": "quantitative", "scale": {"domain": [-0.3346, 1.961], "nice": false, "zero": false},
"axis": {"orient": "right", "values": [-0.3,-0.2,-0.1,0,0.1,0.2,0.3,0.4,0.5,0.6,0.7,0.8,0.9,1,1.1,1.2,1.3,1.4,1.5,1.6,1.7,1.8,1.9], "tickCount": 40, "format": ".4f", "labelExpr": "datum.value > 1.85 ? '' : (abs(datum.value) < 1e-9 ? '−0.0000' : datum.label)", "labelOverlap": false, "labelBound": false, "grid": true, "gridColor": "#eef0f3", "ticks": false, "domain": true, "domainColor": "#e0e3eb", "labelPadding": 11, "labelFontSize": 12, "labelColor": "#131722", "labelFont": "Liberation Sans", "title": null}},
"y2": {"field": "c"},
"color": {"condition": {"test": "datum.c >= datum.o", "value": "#26a69a"}, "value": "#ef5350"}
}
},
{
"data": {"name": "ma"},
"transform": [{"filter": "datum.s == 'ma20'"}],
"mark": {"type": "line", "color": "#f07470", "strokeWidth": 1.2, "interpolate": "monotone"},
"encoding": {
"x": {"field": "i", "type": "quantitative", "scale": {"domain": [-0.457, 512.72], "nice": false, "zero": false}},
"y": {"field": "m", "type": "quantitative", "scale": {"domain": [-0.3346, 1.961], "nice": false, "zero": false}}
}
},
{
"data": {"name": "ma"},
"transform": [{"filter": "datum.s == 'ma50'"}],
"mark": {"type": "line", "color": "#7ff2fb", "strokeWidth": 1.3, "interpolate": "monotone"},
"encoding": {
"x": {"field": "i", "type": "quantitative", "scale": {"domain": [-0.457, 512.72], "nice": false, "zero": false}},
"y": {"field": "m", "type": "quantitative", "scale": {"domain": [-0.3346, 1.961], "nice": false, "zero": false}}
}
},
{
"data": {"name": "ma"},
"transform": [{"filter": "datum.s == 'ema'"}],
"mark": {"type": "line", "color": "#5874c0", "strokeWidth": 4, "opacity": 0.9, "interpolate": "monotone"},
"encoding": {
"x": {"field": "i", "type": "quantitative", "scale": {"domain": [-0.457, 512.72], "nice": false, "zero": false}},
"y": {"field": "m", "type": "quantitative", "scale": {"domain": [-0.3346, 1.961], "nice": false, "zero": false}}
}
},
{
"data": {"name": "ma"},
"transform": [{"filter": "datum.s == 'ma200'"}],
"mark": {"type": "line", "color": "#363a45", "strokeWidth": 3.2, "interpolate": "monotone"},
"encoding": {
"x": {"field": "i", "type": "quantitative", "scale": {"domain": [-0.457, 512.72], "nice": false, "zero": false}},
"y": {"field": "m", "type": "quantitative", "scale": {"domain": [-0.3346, 1.961], "nice": false, "zero": false}}
}
},
{
"data": {"values": [{}]},
"mark": {"type": "rule", "color": "#ef5350", "strokeWidth": 1, "strokeDash": [1.5, 2.5]},
"encoding": {
"x": {"datum": -1, "type": "quantitative", "scale": {"domain": [-0.457, 512.72], "nice": false, "zero": false}},
"x2": {"datum": 491.3},
"y": {"datum": 0.4842, "type": "quantitative", "scale": {"domain": [-0.3346, 1.961], "nice": false, "zero": false}}
}
},
{
"data": {"values": [{}]},
"mark": {"type": "rect", "color": "#ef5350", "cornerRadius": 2},
"encoding": {
"x": {"datum": 491.3, "type": "quantitative", "scale": {"domain": [-0.457, 512.72], "nice": false, "zero": false}},
"x2": {"datum": 512.0},
"y": {"datum": 0.5055, "type": "quantitative", "scale": {"domain": [-0.3346, 1.961], "nice": false, "zero": false}},
"y2": {"datum": 0.4547}
}
},
{
"data": {"values": [{}]},
"mark": {"type": "text", "text": "XRPUSDT", "color": "#ffffff", "fontSize": 12, "fontWeight": "bold", "align": "center", "baseline": "middle"},
"encoding": {
"x": {"datum": 501.65, "type": "quantitative", "scale": {"domain": [-0.457, 512.72], "nice": false, "zero": false}},
"y": {"datum": 0.4801, "type": "quantitative", "scale": {"domain": [-0.3346, 1.961], "nice": false, "zero": false}}
}
},
{
"data": {"values": [{}]},
"mark": {"type": "rect", "color": "#ef5350", "cornerRadius": 2},
"encoding": {
"x": {"datum": 512.72, "type": "quantitative", "scale": {"domain": [-0.457, 512.72], "nice": false, "zero": false}},
"x2": {"datum": 535.3},
"y": {"datum": 0.5149, "type": "quantitative", "scale": {"domain": [-0.3346, 1.961], "nice": false, "zero": false}},
"y2": {"datum": 0.417}
}
},
{
"data": {"values": [{}]},
"mark": {"type": "text", "text": "0.4842", "color": "#ffffff", "fontSize": 12, "fontWeight": "bold", "align": "left", "baseline": "middle"},
"encoding": {
"x": {"datum": 516.4, "type": "quantitative", "scale": {"domain": [-0.457, 512.72], "nice": false, "zero": false}},
"y": {"datum": 0.4833, "type": "quantitative", "scale": {"domain": [-0.3346, 1.961], "nice": false, "zero": false}}
}
},
{
"data": {"values": [{}]},
"mark": {"type": "text", "text": "12:23:30", "color": "#fde2e1", "fontSize": 12, "align": "left", "baseline": "middle"},
"encoding": {
"x": {"datum": 516.4, "type": "quantitative", "scale": {"domain": [-0.457, 512.72], "nice": false, "zero": false}},
"y": {"datum": 0.4359, "type": "quantitative", "scale": {"domain": [-0.3346, 1.961], "nice": false, "zero": false}}
}
},
{
"data": {"values": [{}]},
"mark": {"type": "text", "text": "USDT ˅", "color": "#131722", "fontSize": 12, "align": "left", "baseline": "middle"},
"encoding": {
"x": {"datum": 515.9, "type": "quantitative", "scale": {"domain": [-0.457, 512.72], "nice": false, "zero": false}},
"y": {"datum": 1.9295, "type": "quantitative", "scale": {"domain": [-0.3346, 1.961], "nice": false, "zero": false}}
}
},
{
"data": {"values": [{}]},
"mark": {"type": "text", "text": "XRP / TetherUS · 1D · BINANCE · TradingView", "color": "#131722", "fontSize": 14.6, "align": "left", "baseline": "middle"},
"encoding": {
"x": {"datum": 2.35, "type": "quantitative", "scale": {"domain": [-0.457, 512.72], "nice": false, "zero": false}},
"y": {"datum": 1.9184, "type": "quantitative", "scale": {"domain": [-0.3346, 1.961], "nice": false, "zero": false}}
}
},
{
"data": {"values": [{}]},
"mark": {"type": "point", "filled": true, "color": "#cdeee0", "size": 160, "opacity": 1},
"encoding": {
"x": {"datum": 119.67, "type": "quantitative", "scale": {"domain": [-0.457, 512.72], "nice": false, "zero": false}},
"y": {"datum": 1.92, "type": "quantitative", "scale": {"domain": [-0.3346, 1.961], "nice": false, "zero": false}}
}
},
{
"data": {"values": [{}]},
"mark": {"type": "point", "filled": true, "color": "#22a06b", "size": 40, "opacity": 1},
"encoding": {
"x": {"datum": 119.67, "type": "quantitative", "scale": {"domain": [-0.457, 512.72], "nice": false, "zero": false}},
"y": {"datum": 1.92, "type": "quantitative", "scale": {"domain": [-0.3346, 1.961], "nice": false, "zero": false}}
}
},
{
"data": {"values": [{}]},
"mark": {"type": "rect", "fill": "#ffffff", "stroke": "#e0e3eb", "strokeWidth": 1, "cornerRadius": 3},
"encoding": {
"x": {"datum": 2.35, "type": "quantitative", "scale": {"domain": [-0.457, 512.72], "nice": false, "zero": false}},
"x2": {"datum": 12.19},
"y": {"datum": 1.8758, "type": "quantitative", "scale": {"domain": [-0.3346, 1.961], "nice": false, "zero": false}},
"y2": {"datum": 1.8158}
}
},
{
"data": {"values": [{}]},
"mark": {"type": "text", "text": "˅  2", "color": "#131722", "fontSize": 12, "align": "center", "baseline": "middle"},
"encoding": {
"x": {"datum": 7.27, "type": "quantitative", "scale": {"domain": [-0.457, 512.72], "nice": false, "zero": false}},
"y": {"datum": 1.8442, "type": "quantitative", "scale": {"domain": [-0.3346, 1.961], "nice": false, "zero": false}}
}
}
]
}
],
"resolve": {"scale": {"y": "independent"}}
}
